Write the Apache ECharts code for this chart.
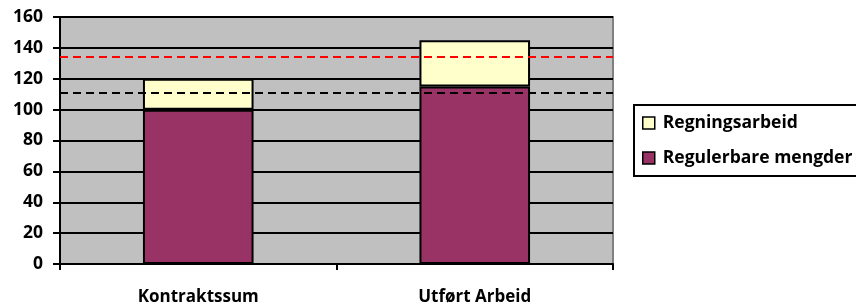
<!DOCTYPE html>
<html>
<head>
<meta charset="utf-8">
<script src="https://cdn.jsdelivr.net/npm/echarts@6/dist/echarts.min.js"></script>
<style>
html,body{margin:0;padding:0;background:#fff;}
#c{width:856px;height:306px;}
</style>
</head>
<body>
<div id="c"></div>
<script>
const categories = ['Kontraktssum', 'Utført Arbeid'];
const regulerbare = [100, 115];
const regning = [20, 30];
const redLine = 134.3;
const blackLine = 111;
const yTicks = {min: 0, max: 160, interval: 20};
const FONT = "'Open Sans', 'Liberation Sans', sans-serif";

const chart = echarts.init(document.getElementById('c'), null, {renderer: 'canvas'});
chart.setOption({
  animation: false,
  backgroundColor: '#fff',
  grid: {
    left: 60, right: 243, top: 17, bottom: 42,
    show: true, backgroundColor: '#C0C0C0', borderColor: '#808080', borderWidth: 2
  },
  legend: {
    orient: 'vertical',
    left: 634, top: 105,
    padding: [8, 100, 8, 8],
    itemGap: 15,
    itemWidth: 12, itemHeight: 12,
    icon: 'rect',
    borderColor: '#000', borderWidth: 2,
    backgroundColor: '#fff',
    data: ['Regningsarbeid', 'Regulerbare mengder'],
    itemStyle: {borderColor: '#000', borderWidth: 1.5},
    textStyle: {fontFamily: FONT, fontWeight: 'bold', fontSize: 17.5, color: '#000', lineHeight: 20, padding: [0, 0, 0, 3]}
  },
  xAxis: {
    type: 'category',
    data: categories,
    boundaryGap: true,
    axisLine: {lineStyle: {color: '#000', width: 2}},
    axisTick: {show: true, length: 6, lineStyle: {color: '#000', width: 2}},
    axisLabel: {fontFamily: FONT, fontWeight: 'bold', fontSize: 17, color: '#000', margin: 25},
    splitLine: {show: false}
  },
  yAxis: {
    type: 'value',
    min: yTicks.min, max: yTicks.max, interval: yTicks.interval,
    axisLine: {show: true, lineStyle: {color: '#000', width: 2}},
    axisTick: {show: true, length: 7, lineStyle: {color: '#000', width: 2}},
    axisLabel: {fontFamily: FONT, fontWeight: 'bold', fontSize: 17.5, color: '#000', margin: 17},
    splitLine: {show: true, lineStyle: {color: '#000', width: 2}}
  },
  series: [
    {
      name: 'Regulerbare mengder',
      type: 'bar',
      stack: 'total',
      barWidth: '40%',
      data: regulerbare,
      itemStyle: {color: '#993366', borderColor: '#000', borderWidth: 2},
      markLine: {
        silent: true,
        symbol: 'none',
        label: {show: false},
        z: 10,
        data: [
          {yAxis: redLine, lineStyle: {color: '#FF0000', width: 2, type: [8, 5]}},
          {yAxis: blackLine, lineStyle: {color: '#000', width: 2, type: [8, 5]}}
        ]
      }
    },
    {
      name: 'Regningsarbeid',
      type: 'bar',
      stack: 'total',
      barWidth: '40%',
      data: regning,
      itemStyle: {color: '#FFFFCC', borderColor: '#000', borderWidth: 2}
    }
  ]
});
</script>
</body>
</html>
